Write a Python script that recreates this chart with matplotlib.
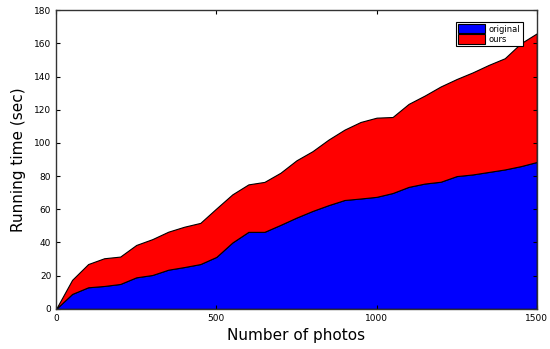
import matplotlib
matplotlib.use("Agg")
import matplotlib.pyplot as plt

# number of photos
photos = [0, 50, 100, 150, 200, 250, 300, 350, 400, 450, 500, 550, 600, 650, 700,
          750, 800, 850, 900, 950, 1000, 1050, 1100, 1150, 1200, 1250, 1300, 1350,
          1400, 1450, 1500]
# running time of the original method (bottom layer)
original = [0, 9, 13, 13.8, 15, 19, 20.4, 23.6, 25.2, 27, 31.3, 40, 46.4, 46.4, 50.6,
            55, 59, 62.5, 65.6, 66.5, 67.5, 69.8, 73.5, 75.5, 76.6, 80, 81, 82.5,
            84, 86, 88.5]
# extra layer for ours (stacked on top of original)
ours = [0, 8.5, 14, 16.7, 16.5, 19.5, 21.6, 22.9, 24.3, 24.8, 29.2, 29, 28.6, 30.1, 31.4,
        34.5, 36, 39.5, 42.4, 46.1, 47.7, 45.8, 50, 53, 57.4, 58.5, 61.5, 64.5,
        67, 74, 77.5]

fig = plt.figure(figsize=(5.5, 3.49), dpi=100)
ax = fig.add_axes([0.102, 0.115, 0.874, 0.856])

ax.stackplot(photos, original, ours, colors=['#0000ff', '#ff0000'],
             labels=['original', 'ours'], edgecolor='black', linewidth=0.8)

ax.set_xlim(0, 1500)
ax.set_ylim(0, 180)
ax.set_xticks([0, 500, 1000, 1500])
ax.set_yticks(range(0, 181, 20))
ax.tick_params(direction='in', top=True, right=True, labelsize=6.5, length=3)
for s in ax.spines.values():
    s.set_linewidth(1.0)
    s.set_color('#333333')

ax.set_xlabel('Number of photos', fontsize=11, labelpad=4)
ax.set_ylabel('Running time (sec)', fontsize=11, labelpad=6)

leg = ax.legend(loc='upper right', fontsize=6, fancybox=False, edgecolor='black',
                framealpha=1, handlelength=3.2, handleheight=1.3, borderpad=0.3,
                labelspacing=0.1, handletextpad=0.5, bbox_to_anchor=(0.98, 0.975))
leg.get_frame().set_linewidth(0.8)

fig.savefig('out.png', dpi=100)
